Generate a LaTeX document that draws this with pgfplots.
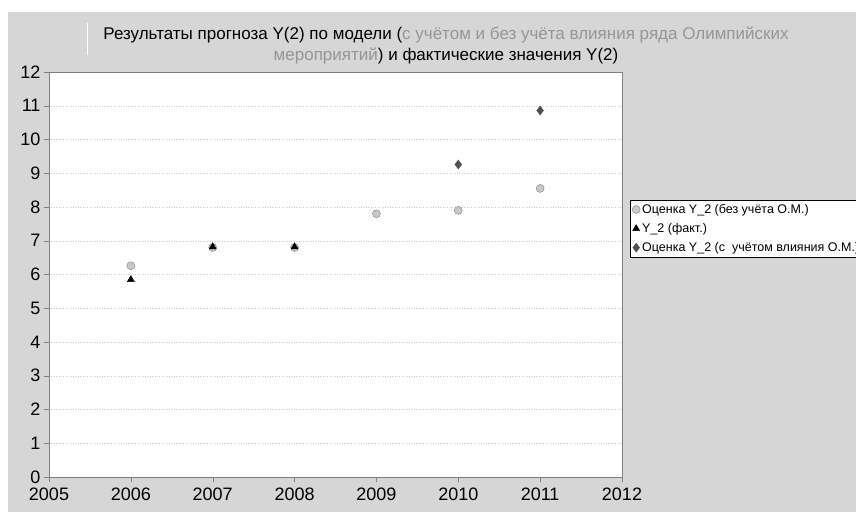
\documentclass[border=0pt]{standalone}
\usepackage{fontspec}
\setmainfont{Liberation Sans}
\usepackage{pgfplots}
\pgfplotsset{compat=1.18}
\definecolor{bg}{RGB}{214,214,214}
\definecolor{axgray}{RGB}{128,128,128}
\definecolor{ttlgray}{RGB}{150,150,150}
\definecolor{circfill}{RGB}{200,200,200}
\definecolor{diam}{RGB}{80,80,80}
\begin{document}
\begin{tikzpicture}[x=1pt,y=1pt]
\useasboundingbox (0,0) rectangle (856,512);
\fill[white] (0,0) rectangle (856,512);
\fill[bg] (8,0) rectangle (856,500);
\draw[white, line width=0.7pt] (87,457) -- (87,489);
\node[align=center, font=\fontsize{17}{21}\selectfont] at (446,467)
{Результаты прогноза Y(2) по модели (\textcolor{ttlgray}{с учётом и без учёта влияния ряда Олимпийских}\\
\textcolor{ttlgray}{мероприятий}) и фактические значения Y(2)};
\begin{axis}[
  at={(49pt,35pt)}, anchor=south west,
  scale only axis, width=573pt, height=405pt,
  xmin=2005, xmax=2012, ymin=0, ymax=12,
  xtick={2005,2006,...,2012}, ytick={0,1,...,12},
  /pgf/number format/set thousands separator={},
  /pgf/number format/assume math mode=true,
  tick label style={font=\fontsize{18}{20}\selectfont},
  xticklabel style={yshift=-2pt},
  tick align=outside, major tick length=5pt,
  xtick pos=left, ytick pos=left,
  axis line style={axgray},
  every tick/.style={axgray},
  axis background/.style={fill=white},
  ymajorgrids, major grid style={dotted, gray!40},
  legend style={at={(1,0.684)}, xshift=8pt, anchor=north west, draw=black, fill=white,
    font=\fontsize{12.5}{14}\selectfont, row sep=4.5pt, inner sep=2pt,
    nodes={inner xsep=2pt}},
  legend cell align=left,
  legend image code/.code={\draw[mark repeat=2,mark phase=2] plot coordinates {(0cm,0cm) (0.25cm,0cm) (0.5cm,0cm)};},
]
\addplot[only marks, mark=*, mark size=4pt, mark options={fill=circfill, draw=axgray}]
  coordinates {(2006,6.26) (2007,6.8) (2008,6.8) (2009,7.8) (2010,7.9) (2011,8.55)};
\addlegendentry{Оценка Y\_2 (без учёта О.М.)}
\addplot[only marks, mark=triangle*, mark size=4pt, mark options={fill=black, draw=black}]
  coordinates {(2006,5.85) (2007,6.82) (2008,6.82)};
\addlegendentry{Y\_2 (факт.)}
\addplot[only marks, mark=diamond*, mark size=4.5pt, mark options={fill=diam, draw=diam}]
  coordinates {(2010,9.26) (2011,10.86)};
\addlegendentry{Оценка Y\_2 (с\ \ учётом влияния О.М.)}
\end{axis}
\end{tikzpicture}
\end{document}
